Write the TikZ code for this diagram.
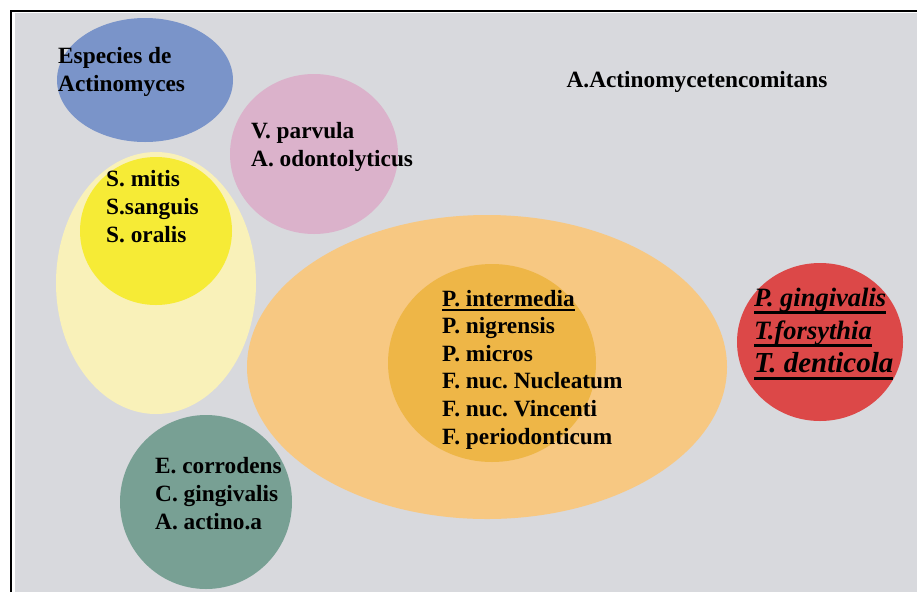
\documentclass[tikz,border=0pt]{standalone}
\usepackage{fontspec}
\setmainfont{Liberation Serif}
\usepackage{xcolor}
\usepackage{tikz}
\frenchspacing

\definecolor{bggrey}{HTML}{D8D9DD}
\definecolor{actblue}{HTML}{7A94C9}
\definecolor{vpink}{HTML}{DBB2CB}
\definecolor{paleyellow}{HTML}{F9F1B9}
\definecolor{strepyellow}{HTML}{F6EB36}
\definecolor{corgreen}{HTML}{78A094}
\definecolor{outerorange}{HTML}{F7C882}
\definecolor{innerorange}{HTML}{EEB647}
\definecolor{redcomplex}{HTML}{DC4848}

\newsavebox{\ulinebox}
\newcommand{\ulblack}[1]{\sbox{\ulinebox}{#1}\rlap{\rule[-4.8pt]{\wd\ulinebox}{1.8pt}}\usebox{\ulinebox}}
\newcommand{\ulred}[1]{\sbox{\ulinebox}{#1}\rlap{\rule[-7.5pt]{\wd\ulinebox}{2.4pt}}\usebox{\ulinebox}}

\begin{document}
\begin{tikzpicture}[x=1pt, y=-1pt]
				\tikzstyle{every node}=[font=\bfseries\fontsize{23.3}{27.6}\selectfont, align=left, inner sep=0pt, anchor=base west];
				\useasboundingbox (0, 0) rectangle (917, 592);
				
				%Background and frame
				\fill[white] (0, 0) rectangle (917, 592);
				\fill[bggrey] (15, 13) rectangle (917, 592);
				\draw[black, line width=2pt] (10.5, 592) -- (10.5, 11) -- (917, 11);
				
				%Complexes
				\fill[actblue] (145, 80) ellipse [x radius=88, y radius=62];
				\fill[vpink] (314, 154) ellipse [x radius=84, y radius=80];
				\fill[paleyellow] (156, 283) ellipse [x radius=100, y radius=131];
				\fill[strepyellow] (156, 231) ellipse [x radius=76, y radius=74];
				\fill[corgreen] (206, 502) ellipse [x radius=86, y radius=87];
				\fill[outerorange] (487, 367) ellipse [x radius=240, y radius=152];
				\fill[innerorange] (492, 363) ellipse [x radius=104, y radius=99];
				\fill[redcomplex] (820, 342) ellipse [x radius=83, y radius=79];
				
				%Species (anchored at the baseline of the last line)
				\node (actinomyces) at (58, 91) {Especies de\\Actinomyces};
				\node[anchor=base] (aactino) at (697, 87) {A.Actinomycetencomitans};
				\node (purple) at (251, 166) {V. parvula\\A. odontolyticus};
				\node (yellow) at (106, 242) {S. mitis\\S.sanguis\\S. oralis};
				\node (green) at (155, 529) {E. corrodens\\C. gingivalis\\A. actino.a};
				\node (orange) at (442, 444) {\ulblack{P. intermedia}\\P. nigrensis\\P. micros\\F. nuc. Nucleatum\\F. nuc. Vincenti\\F. periodonticum};
				\node[font=\bfseries\itshape\fontsize{26.5}{33}\selectfont] (red) at (754, 372)
					{\ulred{P. gingivalis}\\\ulred{T.forsythia}\\{\fontsize{29}{33}\selectfont\ulred{T. denticola}}};
			\end{tikzpicture}
\end{document}
